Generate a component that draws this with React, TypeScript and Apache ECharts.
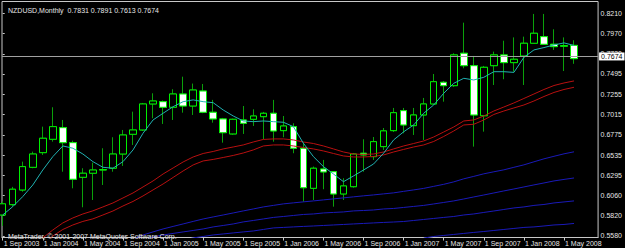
import React, { useEffect, useRef } from "react";
import * as echarts from "echarts";

const months = [
  "Sep 2003", "Oct 2003", "Nov 2003", "Dec 2003",
  "Jan 2004", "Feb 2004", "Mar 2004", "Apr 2004", "May 2004", "Jun 2004", "Jul 2004", "Aug 2004", "Sep 2004", "Oct 2004", "Nov 2004", "Dec 2004",
  "Jan 2005", "Feb 2005", "Mar 2005", "Apr 2005", "May 2005", "Jun 2005", "Jul 2005", "Aug 2005", "Sep 2005", "Oct 2005", "Nov 2005", "Dec 2005",
  "Jan 2006", "Feb 2006", "Mar 2006", "Apr 2006", "May 2006", "Jun 2006", "Jul 2006", "Aug 2006", "Sep 2006", "Oct 2006", "Nov 2006", "Dec 2006",
  "Jan 2007", "Feb 2007", "Mar 2007", "Apr 2007", "May 2007", "Jun 2007", "Jul 2007", "Aug 2007", "Sep 2007", "Oct 2007", "Nov 2007", "Dec 2007",
  "Jan 2008", "Feb 2008", "Mar 2008", "Apr 2008", "May 2008", "Jun 2008",
];

const open = [0.5828, 0.5950, 0.6123, 0.6391, 0.6564, 0.6722, 0.6859, 0.6682, 0.6273, 0.6321, 0.6359, 0.6380, 0.6548, 0.6781, 0.6832, 0.7139, 0.7166, 0.7100, 0.7257, 0.7115, 0.7292, 0.7041, 0.6962, 0.6785, 0.6950, 0.6958, 0.6989, 0.7029, 0.6824, 0.6871, 0.6616, 0.6143, 0.6371, 0.6339, 0.6076, 0.6162, 0.6557, 0.6517, 0.6635, 0.6824, 0.7060, 0.6883, 0.7009, 0.7139, 0.7395, 0.7355, 0.7738, 0.7591, 0.7000, 0.7591, 0.7718, 0.7627, 0.7706, 0.7856, 0.7934, 0.7844, 0.7820, 0.7831];
const close = [0.5960, 0.6132, 0.6399, 0.6548, 0.6734, 0.6871, 0.6682, 0.6250, 0.6321, 0.6359, 0.6365, 0.6548, 0.6773, 0.6832, 0.7139, 0.7174, 0.7100, 0.7257, 0.7115, 0.7304, 0.7041, 0.6962, 0.6800, 0.6958, 0.6911, 0.6997, 0.7029, 0.6820, 0.6879, 0.6616, 0.6150, 0.6380, 0.6336, 0.6076, 0.6171, 0.6548, 0.6537, 0.6694, 0.6821, 0.7036, 0.6891, 0.7009, 0.7139, 0.7402, 0.7355, 0.7718, 0.7591, 0.7009, 0.7572, 0.7718, 0.7627, 0.7667, 0.7856, 0.7974, 0.7844, 0.7816, 0.7829, 0.7674];
const low = [0.5700, 0.5930, 0.6103, 0.6380, 0.6537, 0.6694, 0.6339, 0.6143, 0.5919, 0.6005, 0.6182, 0.6339, 0.6407, 0.6655, 0.6820, 0.6970, 0.6903, 0.6950, 0.7036, 0.7009, 0.7030, 0.6918, 0.6682, 0.6775, 0.6785, 0.6879, 0.6722, 0.6694, 0.6746, 0.6557, 0.5985, 0.6005, 0.6132, 0.5926, 0.6005, 0.6150, 0.6339, 0.6478, 0.6596, 0.6808, 0.6793, 0.6773, 0.6714, 0.7130, 0.7166, 0.7340, 0.7560, 0.6635, 0.6812, 0.7363, 0.7431, 0.7520, 0.7363, 0.7850, 0.7840, 0.7777, 0.7528, 0.7613];
const high = [0.5990, 0.6160, 0.6458, 0.6576, 0.6871, 0.7100, 0.6950, 0.6705, 0.6380, 0.6446, 0.6616, 0.6746, 0.6832, 0.7048, 0.7151, 0.7265, 0.7180, 0.7313, 0.7461, 0.7380, 0.7375, 0.7187, 0.6974, 0.6966, 0.7115, 0.7076, 0.7045, 0.7187, 0.6997, 0.6911, 0.6682, 0.6400, 0.6478, 0.6345, 0.6262, 0.6560, 0.6722, 0.6749, 0.6855, 0.7092, 0.7092, 0.7092, 0.7210, 0.7493, 0.7410, 0.7738, 0.8099, 0.7706, 0.7588, 0.7757, 0.7886, 0.7925, 0.7934, 0.8202, 0.8202, 0.8021, 0.7925, 0.7891];

const maCyan = [0.5828, 0.5926, 0.6045, 0.6182, 0.6359, 0.6517, 0.6643, 0.6616, 0.6548, 0.6458, 0.6391, 0.6380, 0.6458, 0.6596, 0.6793, 0.6950, 0.7029, 0.7107, 0.7166, 0.7187, 0.7166, 0.7154, 0.7068, 0.6997, 0.6938, 0.6930, 0.6938, 0.6930, 0.6923, 0.6871, 0.6675, 0.6517, 0.6399, 0.6312, 0.6221, 0.6289, 0.6359, 0.6430, 0.6557, 0.6714, 0.6810, 0.6891, 0.7029, 0.7127, 0.7265, 0.7383, 0.7442, 0.7422, 0.7454, 0.7520, 0.7520, 0.7512, 0.7690, 0.7777, 0.7805, 0.7836, 0.7860, 0.7830];

const maRedUpper = [null, null, null, 0.5440, 0.5557, 0.5651, 0.5734, 0.5793, 0.5840, 0.5877, 0.5923, 0.5970, 0.6029, 0.6088, 0.6159, 0.6230, 0.6312, 0.6383, 0.6454, 0.6513, 0.6554, 0.6578, 0.6608, 0.6631, 0.6655, 0.6690, 0.6720, 0.6726, 0.6726, 0.6714, 0.6690, 0.6672, 0.6643, 0.6608, 0.6572, 0.6548, 0.6543, 0.6548, 0.6572, 0.6608, 0.6643, 0.6672, 0.6702, 0.6749, 0.6808, 0.6867, 0.6938, 0.6950, 0.6997, 0.7056, 0.7103, 0.7151, 0.7204, 0.7257, 0.7310, 0.7357, 0.7387, 0.7411];
const maRedLower = [null, null, null, 0.5380, 0.5480, 0.5580, 0.5657, 0.5710, 0.5752, 0.5782, 0.5828, 0.5875, 0.5934, 0.5988, 0.6053, 0.6124, 0.6194, 0.6271, 0.6348, 0.6419, 0.6466, 0.6484, 0.6507, 0.6531, 0.6560, 0.6596, 0.6643, 0.6655, 0.6655, 0.6643, 0.6625, 0.6608, 0.6584, 0.6554, 0.6525, 0.6513, 0.6513, 0.6519, 0.6537, 0.6572, 0.6602, 0.6631, 0.6655, 0.6696, 0.6755, 0.6820, 0.6891, 0.6899, 0.6950, 0.7015, 0.7056, 0.7092, 0.7127, 0.7174, 0.7227, 0.7275, 0.7310, 0.7336];

const maBlue1 = [null, null, null, null, null, null, null, null, null, null, null, null, null, 0.5540, 0.5592, 0.5628, 0.5663, 0.5693, 0.5722, 0.5752, 0.5781, 0.5805, 0.5828, 0.5852, 0.5876, 0.5899, 0.5923, 0.5941, 0.5959, 0.5971, 0.5983, 0.5994, 0.6006, 0.6018, 0.6030, 0.6042, 0.6054, 0.6065, 0.6077, 0.6089, 0.6107, 0.6124, 0.6142, 0.6166, 0.6190, 0.6219, 0.6255, 0.6284, 0.6314, 0.6338, 0.6361, 0.6391, 0.6420, 0.6456, 0.6491, 0.6521, 0.6550, 0.6574];
const maBlue2 = [null, null, null, null, null, null, null, null, null, null, null, null, null, null, 0.5530, 0.5569, 0.5592, 0.5610, 0.5628, 0.5645, 0.5663, 0.5687, 0.5704, 0.5722, 0.5746, 0.5763, 0.5781, 0.5799, 0.5810, 0.5822, 0.5834, 0.5840, 0.5852, 0.5858, 0.5864, 0.5876, 0.5881, 0.5887, 0.5899, 0.5905, 0.5917, 0.5929, 0.5941, 0.5958, 0.5976, 0.5994, 0.6017, 0.6041, 0.6064, 0.6088, 0.6112, 0.6135, 0.6159, 0.6183, 0.6206, 0.6230, 0.6248, 0.6265];
const maBlue3 = [null, null, null, null, null, null, null, null, null, null, null, null, null, null, null, null, null, null, 0.5530, 0.5557, 0.5574, 0.5592, 0.5604, 0.5616, 0.5628, 0.5639, 0.5657, 0.5675, 0.5681, 0.5687, 0.5693, 0.5698, 0.5704, 0.5710, 0.5716, 0.5722, 0.5728, 0.5734, 0.5740, 0.5745, 0.5751, 0.5763, 0.5775, 0.5787, 0.5799, 0.5810, 0.5828, 0.5840, 0.5858, 0.5875, 0.5893, 0.5911, 0.5923, 0.5941, 0.5952, 0.5970, 0.5982, 0.5994];
const maBlue4 = [null, null, null, null, null, null, null, null, null, null, null, null, null, null, null, null, null, null, null, null, null, null, null, null, null, null, null, null, null, null, null, null, null, null, null, null, null, null, null, null, null, null, 0.5555, 0.5574, 0.5586, 0.5598, 0.5610, 0.5622, 0.5633, 0.5645, 0.5657, 0.5669, 0.5681, 0.5687, 0.5698, 0.5710, 0.5716, 0.5728];

const priceTicks = [0.5580, 0.5820, 0.6060, 0.6295, 0.6535, 0.6775, 0.7015, 0.7255, 0.7495, 0.7730, 0.7970, 0.8210];
const dateTicks = [0, 4, 8, 12, 16, 20, 24, 28, 32, 36, 40, 44, 48, 52, 56];
const bidPrice = 0.7674;
const headerText = "NZDUSD,Monthly \u00a00.7831 0.7891 0.7613 0.7674";
const copyrightText = "MetaTrader, \u00a9 2001-2007 MetaQuotes Software Corp.";

const FONT = "'Liberation Sans Narrow', 'Liberation Sans', Arial, sans-serif";
const TEXT = "#e6e6e6";

function toPoints(values: (number | null)[]) {
  const pts: [number, number][] = [];
  values.forEach((v, i) => {
    if (v !== null) pts.push([i, v]);
  });
  return pts;
}

function lineSeries(values: (number | null)[], color: string, extra: any = {}) {
  return {
    type: "line",
    data: toPoints(values),
    symbol: "none",
    smooth: false,
    clip: true,
    lineStyle: { color, width: 1 },
    z: 3,
    ...extra,
  };
}

export default function App() {
  const ref = useRef<HTMLDivElement>(null);
  useEffect(() => {
    if (!ref.current) return;
    const chart = echarts.init(ref.current, undefined, { renderer: "svg" });
    // full candles (wicks drawn in a darker green)
    const candles = months.map((_, i) => [i, open[i], close[i], low[i], high[i]]);
    // bodies only, drawn on top in lime
    const bodies = months.map((_, i) => [
      i,
      open[i],
      close[i],
      Math.min(open[i], close[i]),
      Math.max(open[i], close[i]),
    ]);
    chart.setOption({
      animation: false,
      backgroundColor: "#000000",
      title: [
        {
          text: headerText,
          left: 3,
          top: 2,
          textStyle: { color: TEXT, fontSize: 7, fontWeight: "normal", fontFamily: FONT },
        },
        {
          text: copyrightText,
          left: 3,
          top: 228,
          textStyle: { color: TEXT, fontSize: 7, fontWeight: "normal", fontFamily: FONT },
        },
      ],
      grid: {
        left: 2,
        right: 23.5,
        top: 1.5,
        bottom: 10.5,
        show: true,
        borderColor: "#c8c8c8",
        borderWidth: 1,
        backgroundColor: "transparent",
      },
      xAxis: {
        type: "value",
        min: -0.07,
        max: 59.4,
        axisLine: { show: true, lineStyle: { color: "#c8c8c8" } },
        axisTick: { show: true, customValues: dateTicks, length: 3, lineStyle: { color: "#c8c8c8" } },
        axisLabel: {
          show: true,
          customValues: dateTicks,
          formatter: (v: number) => "1 " + months[Math.round(v)],
          align: "left",
          margin: 2,
          color: TEXT,
          fontSize: 7,
          fontFamily: FONT,
          padding: [0, 0, 0, 1],
        },
        splitLine: { show: false },
      },
      yAxis: {
        type: "value",
        position: "right",
        min: 0.5562,
        max: 0.8349,
        scale: true,
        axisLine: { show: false },
        axisTick: { show: true, customValues: priceTicks, length: 2, lineStyle: { color: "#c8c8c8" } },
        axisLabel: {
          show: true,
          customValues: priceTicks,
          formatter: (v: number) => v.toFixed(4),
          margin: 2.5,
          color: TEXT,
          fontSize: 7,
          fontFamily: FONT,
        },
        splitLine: { show: false },
      },
      series: [
        {
          type: "candlestick",
          data: candles,
          barWidth: 7,
          z: 2,
          itemStyle: {
            color: "#000000",
            color0: "#ffffff",
            borderColor: "#0aa00a",
            borderColor0: "#0aa00a",
            borderWidth: 1,
          },
        },
        {
          type: "candlestick",
          data: bodies,
          barWidth: 7,
          z: 2,
          itemStyle: {
            color: "#000000",
            color0: "#ffffff",
            borderColor: "#00f000",
            borderColor0: "#00f000",
            borderWidth: 1,
          },
        },
        lineSeries(maBlue4, "#1a1ab8"),
        lineSeries(maBlue3, "#1a1ab8"),
        lineSeries(maBlue2, "#1a1ab8"),
        lineSeries(maBlue1, "#1a1ab8"),
        lineSeries(maRedLower, "#b81010"),
        lineSeries(maRedUpper, "#b81010"),
        lineSeries(maCyan, "#20b2b2", {
          markLine: {
            silent: true,
            symbol: ["none", "none"],
            data: [{ yAxis: bidPrice }],
            lineStyle: { color: "#a0a0a0", width: 1, type: "solid" },
            label: {
              show: true,
              position: "end",
              distance: 1,
              formatter: bidPrice.toFixed(4),
              color: "#000000",
              backgroundColor: "#ffffff",
              fontSize: 7,
              fontFamily: FONT,
              padding: [1, 2, 0, 2],
            },
          },
        }),
      ],
    });
    return () => chart.dispose();
  }, []);
  return (
    <div
      ref={ref}
      style={{ position: "fixed", left: 0, top: 0, width: 625, height: 248 }}
    />
  );
}
